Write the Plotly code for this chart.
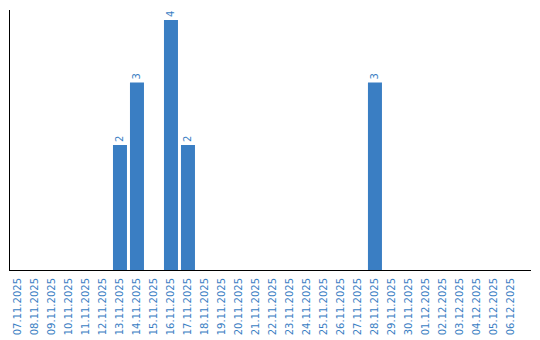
import plotly.graph_objects as go

dates = ["07.11.2025", "08.11.2025", "09.11.2025", "10.11.2025", "11.11.2025", "12.11.2025",
         "13.11.2025", "14.11.2025", "15.11.2025", "16.11.2025", "17.11.2025", "18.11.2025",
         "19.11.2025", "20.11.2025", "21.11.2025", "22.11.2025", "23.11.2025", "24.11.2025",
         "25.11.2025", "26.11.2025", "27.11.2025", "28.11.2025", "29.11.2025", "30.11.2025",
         "01.12.2025", "02.12.2025", "03.12.2025", "04.12.2025", "05.12.2025", "06.12.2025"]
counts = [0, 0, 0, 0, 0, 0, 2, 3, 0, 4, 2, 0, 0, 0, 0, 0, 0, 0, 0, 0, 0, 3, 0, 0, 0, 0, 0, 0, 0, 0]

labels = [str(v) if v else "" for v in counts]
blue = "#3a7ec3"

fig = go.Figure(go.Bar(
    x=dates, y=counts, marker=dict(color=blue, line=dict(width=0)),
    text=labels, textposition="outside", textangle=-90,
    textfont=dict(family="DejaVu Sans", size=10, color=blue),
    cliponaxis=False, hoverinfo="x+y",
))

fig.update_layout(
    width=540, height=340,
    margin=dict(l=10, r=9, t=10, b=70),
    paper_bgcolor="white", plot_bgcolor="white",
    bargap=0.176, showlegend=False,
    font=dict(family="DejaVu Sans", size=10, color=blue),
    uniformtext=dict(minsize=10, mode="show"),
)
fig.update_xaxes(
    type="category", range=[-0.47, 30.18], tickangle=-90,
    showline=True, linecolor="black", linewidth=1,
    showgrid=False, ticks="", ticklabelstandoff=3, automargin=False,
    tickfont=dict(family="DejaVu Sans", size=10, color=blue),
)
fig.update_yaxes(
    range=[0, 4.16], showline=True, linecolor="black", linewidth=1,
    showgrid=False, zeroline=False, showticklabels=False, ticks="", automargin=False,
)

fig.write_html("out.html")
